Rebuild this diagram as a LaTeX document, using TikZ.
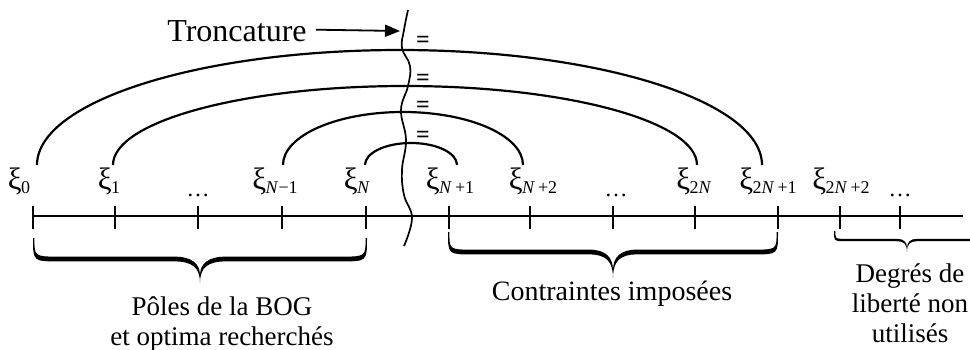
\documentclass[tikz,border=0pt]{standalone}
\usepackage{fontspec}
\setmainfont{Liberation Serif}
\usetikzlibrary{arrows.meta}
\newcommand\xil[1]{ξ\kern-0.5pt\raisebox{-4pt}{\fontsize{18}{18}\selectfont #1}}
\newcommand\NN{\textit{N}}
% brace: #1 x1, #2 x2, #3 xm, #4 y0, #5 a (bar depth), #6 b (tip depth), #7 thickness, #8 r
\newcommand\mybrace[8]{%
\fill (#1,#4) .. controls (#1,{#4+#5+#7/2}) .. ({#1+#8},{#4+#5+#7/2})
 -- ({#3-#8},{#4+#5+#7/2}) .. controls ({#3-0.3*#8},{#4+#5+#7/2}) and (#3,{#4+#5+#7/2+0.25*(#6-#5)}) .. (#3,{#4+#6})
 .. controls (#3,{#4+#5+#7/2+0.25*(#6-#5)}) and ({#3+0.3*#8},{#4+#5+#7/2}) .. ({#3+#8},{#4+#5+#7/2})
 -- ({#2-#8},{#4+#5+#7/2}) .. controls (#2,{#4+#5+#7/2}) .. (#2,#4)
 -- ({#2-1.4},#4) .. controls ({#2-1.4},{#4+#5-#7/2}) .. ({#2-#8},{#4+#5-#7/2})
 -- ({#3+#8},{#4+#5-#7/2}) .. controls ({#3+0.3*#8},{#4+#5-#7/2}) and (#3,{#4+#5-#7/2+0.3*(#6-#5)}) .. (#3,{#4+#6-1.6*#7})
 .. controls (#3,{#4+#5-#7/2+0.3*(#6-#5)}) and ({#3-0.3*#8},{#4+#5-#7/2}) .. ({#3-#8},{#4+#5-#7/2})
 -- ({#1+#8},{#4+#5-#7/2}) .. controls ({#1+1.4},{#4+#5-#7/2}) .. ({#1+1.4},#4) -- cycle;}
\tikzset{
  lbl/.style={font=\fontsize{27}{30}\selectfont, inner sep=0pt, align=center, anchor=base},
  xilbl/.style={font=\fontsize{31}{31}\selectfont, inner sep=0pt, anchor=base},
  dotslbl/.style={font=\fontsize{23}{23}\selectfont, inner sep=0pt, anchor=base},
  eqsign/.style={font=\bfseries\fontsize{24}{24}\selectfont, inner sep=0pt},
  arcline/.style={line width=2.2pt},
  axisline/.style={line width=2.6pt},
  tickline/.style={line width=2.2pt},
  waveline/.style={line width=1.7pt}
}
\begin{document}
\begin{tikzpicture}[x=1pt,y=-1pt]
\clip (0,0) rectangle (970,349);
\fill[white] (0,0) rectangle (970,349);
% axis
\draw[axisline] (32,216) -- (963,216);
\foreach \x in {33,115,198,282,366,449,530,613,695,778,840,900}
  \draw[tickline] (\x,206) -- (\x,229);
% labels
\node[xilbl] (x0) at (19,189) {\xil{0}};
\node[xilbl] (x1) at (109,189) {\xil{1}};
\node[dotslbl] (d1) at (198,196) {…};
\node[xilbl] (xNm) at (275,189) {\xil{\NN−1}};
\node[xilbl] (xN) at (357,189) {\xil{\NN}};
\node[xilbl] (xNp1) at (450,189) {\xil{\NN\,+1}};
\node[xilbl] (xNp2) at (533,189) {\xil{\NN\,+2}};
\node[dotslbl] (d2) at (616,196) {…};
\node[xilbl] (x2N) at (694,189) {\xil{2\NN}};
\node[xilbl] (x2Np1) at (768,189) {\xil{2\NN\,+1}};
\node[xilbl] (x2Np2) at (841,189) {\xil{2\NN\,+2}};
\node[dotslbl] (d3) at (900,196) {…};
% arc end points
\coordinate (a1) at (37,165); \coordinate (b1) at (762,165);
\coordinate (a2) at (113,165); \coordinate (b2) at (697,165);
\coordinate (a3) at (283,165); \coordinate (b3) at (523,165);
\coordinate (a4) at (365,165); \coordinate (b4) at (457,165);
\draw[arcline] (a1) .. controls (37,101.5) and (199.3,50) .. (399.5,50) .. controls (599.7,50) and (762,101.5) .. (b1);
\draw[arcline] (a2) .. controls (113,121.4) and (243.7,86) .. (405,86) .. controls (566.3,86) and (697,121.4) .. (b2);
\draw[arcline] (a3) .. controls (283,135.7) and (336.7,112) .. (403,112) .. controls (469.3,112) and (523,135.7) .. (b3);
\draw[arcline] (a4) .. controls (365,152.8) and (385.6,143) .. (411,143) .. controls (436.4,143) and (457,152.8) .. (b4);
% truncation wavy line
\draw[waveline] plot[smooth, tension=0.7] coordinates {(408,10) (404,30) (402,48) (410,66) (408,86) (401,110) (406,140) (402,170) (404,195) (412,218) (404,246)};
% equal signs
\node[eqsign] (e1) at (423,42) {=};
\node[eqsign] (e2) at (423,80) {=};
\node[eqsign] (e3) at (423,107) {=};
\node[eqsign] (e4) at (423,137) {=};
% Troncature
\node[lbl, font=\fontsize{32}{32}\selectfont] (tronc) at (237,41) {Troncature};
\coordinate (tr) at (400,31);
\draw[line width=1.8pt, -{Triangle[length=15pt,width=12pt]}] ([xshift=9pt,yshift=1pt]tronc.east) -- (tr);
% braces
\mybrace{33}{367}{200}{238}{21}{45}{4.8}{26}
\mybrace{448}{778}{613}{232}{20}{46}{4.8}{24}
\mybrace{834}{980}{907}{231}{9}{21}{2.4}{10}
% texts below
\node[lbl] (poles) at (222,345) {Pôles de la BOG\\et optima recherchés};
\node[lbl, font=\fontsize{28}{30}\selectfont] (contr) at (612,300) {Contraintes imposées};
\node[lbl] (degres) at (910,342) {Degrés de\\liberté non\\utilisés};
\end{tikzpicture}
\end{document}
